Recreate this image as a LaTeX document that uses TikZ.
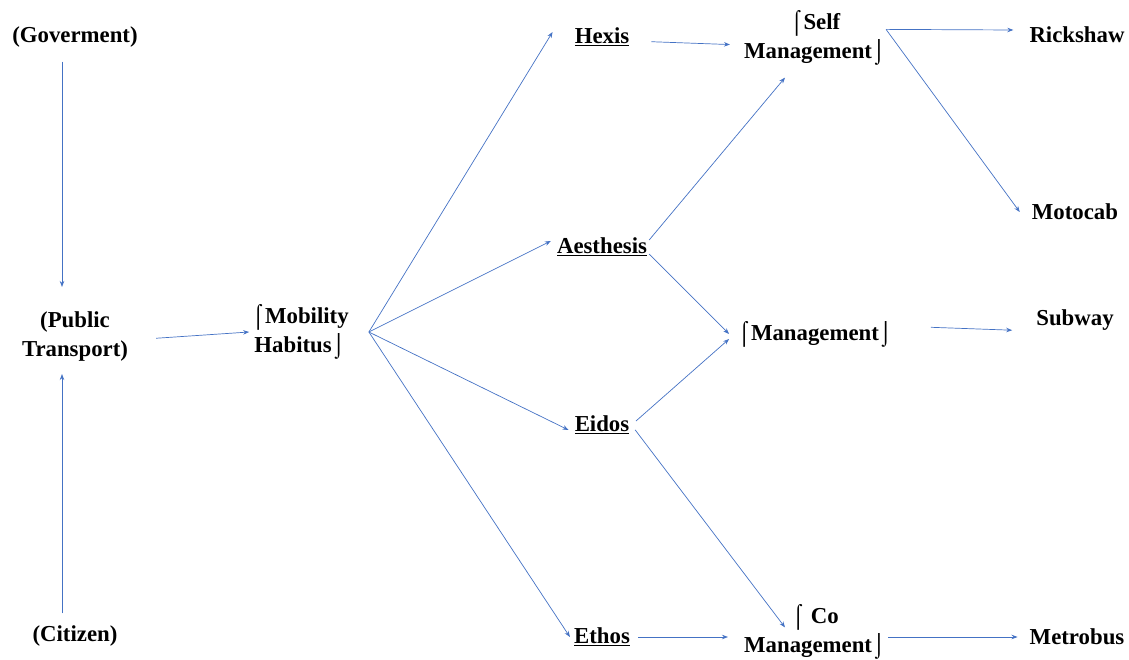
\documentclass[tikz,border=0pt]{standalone}
\usepackage{fontspec}
\setmainfont{Liberation Serif}
\usepackage{tikz}
\usetikzlibrary{positioning, arrows.meta}
\definecolor{linkblue}{RGB}{68,114,196}

\begin{document}
\begin{tikzpicture}[
        x=1pt, y=-1pt,
        word/.style={font=\fontsize{22.8}{29}\selectfont\bfseries, align=center, inner sep=2pt},
        arrow/.style={draw=linkblue, line width=0.7pt, -{Stealth[length=6pt, width=4.5pt]}}
    ]
        \useasboundingbox (0,0) rectangle (1129,660);

        % ===== left column =====
        \node (gov) [word] at (75,37) {(Goverment)};
        \node (public) [word] at (75,337) {(Public\\Transport)};
        \node (citizen) [word] at (75,636) {(Citizen)};
        \node (habitus) [word] at (300,332) {⌠Mobility\\Habitus⌡};

        % ===== middle column =====
        \node (hexis) [word] at (602,37) {\underline{Hexis}};
        \node (aesthesis) [word] at (602,247) {\underline{Aesthesis}};
        \node (eidos) [word] at (602,425) {\underline{Eidos}};
        \node (ethos) [word] at (602,637) {\underline{Ethos}};

        % ===== management =====
        \node (selfMgmt) [word] at (815,38) {⌠Self\\Management⌡};
        \node (mgmt) [word] at (815,334) {⌠Management⌡};
        \node (coMgmt) [word] at (815,632) {⌠ Co\\Management⌡};

        % ===== vehicles =====
        \node (rickshaw) [word] at (1077,35) {Rickshaw};
        \node (motocab) [word] at (1075,212) {Motocab};
        \node (subway) [word] at (1075,320) {Subway};
        \node (metrobus) [word] at (1077,637) {Metrobus};

        % ===== start points =====
        \coordinate (habOut) at ([xshift=18pt]habitus.east);
        \coordinate (selfOut) at ([xshift=-2pt,yshift=-21pt]selfMgmt.north east);

        % ===== arrows =====
        \draw [arrow, shorten <=12pt, shorten >=23pt] (gov.south -| 62,0) -- (public.north -| 62,0);
        \draw [arrow, shorten <=10pt, shorten >=10pt] (citizen.north -| 62,0) -- (public.south -| 62,0);
        \draw [arrow, shorten <=26pt] ([yshift=-3pt]public.east) -- (habitus.west);

        \draw [arrow] (habOut) -- ([xshift=-20pt,yshift=5pt]hexis.west);
        \draw [arrow] (habOut) -- ([xshift=-4pt,yshift=6pt]aesthesis.west);
        \draw [arrow] (habOut) -- ([xshift=-4pt,yshift=-5pt]eidos.west);
        \draw [arrow] (habOut) -- ([xshift=-2pt]ethos.west);

        \draw [arrow, shorten <=20pt, shorten >=12pt] ([yshift=-4pt]hexis.east) -- ([yshift=-7pt]selfMgmt.west);
        \draw [arrow] ([yshift=7pt]aesthesis.east) -- ([xshift=-30pt,yshift=-10pt]selfMgmt.south);
        \draw [arrow] ([yshift=-7pt]aesthesis.east) -- ([xshift=-6pt,yshift=0pt]mgmt.west);
        \draw [arrow, shorten <=6pt] (eidos.east) -- ([xshift=-6pt,yshift=-5pt]mgmt.west);
        \draw [arrow, shorten <=6pt] (eidos.east) -- ([xshift=-30pt,yshift=-25pt]coMgmt.north);
        \draw [arrow, shorten <=6pt, shorten >=14pt] (ethos.east) -- (ethos.east -| coMgmt.west);

        \draw [arrow] (selfOut) -- ([xshift=-14pt,yshift=5pt]rickshaw.west);
        \draw [arrow] (selfOut) -- ([xshift=-10pt]motocab.west);
        \draw [arrow, shorten <=36pt, shorten >=22pt] ([yshift=8pt]mgmt.east) -- ([yshift=-11pt]subway.west);
        \draw [arrow] (metrobus.west -| coMgmt.east) -- ([xshift=-10pt]metrobus.west);

    \end{tikzpicture}
\end{document}
